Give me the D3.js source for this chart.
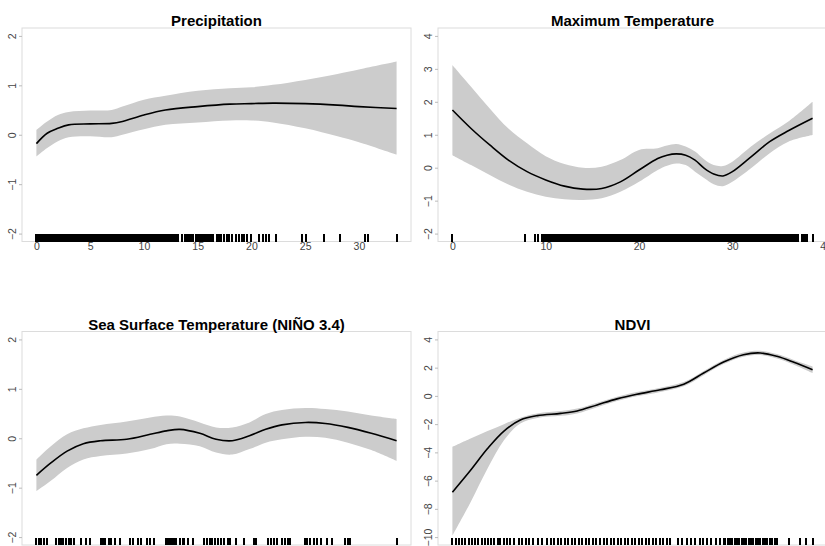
<!DOCTYPE html>
<meta charset="utf-8">
<style>
  body { margin: 0; background: #fff; }
  svg { display: block; font-family: "Liberation Sans", Arial, sans-serif; }
</style>
<svg width="825" height="546"></svg>
<script src="https://cdn.jsdelivr.net/npm/d3@7"></script>
<script>
// ---- Precipitation ----
var precipX     = [0, 1, 2, 3, 5, 7, 8, 10, 12, 15, 18, 20, 22, 25, 28, 30, 33.5];
var precipFit   = [-0.18, 0.03, 0.13, 0.20, 0.22, 0.23, 0.27, 0.40, 0.50, 0.57, 0.62, 0.63, 0.64, 0.63, 0.60, 0.57, 0.53];
var precipUpper = [0.10, 0.27, 0.40, 0.46, 0.49, 0.50, 0.57, 0.71, 0.79, 0.89, 0.94, 0.96, 1.01, 1.11, 1.23, 1.32, 1.48];
var precipLower = [-0.44, -0.27, -0.13, -0.05, -0.03, -0.05, 0.00, 0.11, 0.20, 0.25, 0.29, 0.29, 0.25, 0.13, -0.03, -0.15, -0.40];
var precipRug = [0,0.15,0.3,0.45,0.6,0.75,0.9,1.05,1.2,1.35,1.5,1.65,1.8,1.95,2.1,2.25,2.4,2.55,2.7,2.85,
  3,3.15,3.3,3.45,3.6,3.75,3.9,4.05,4.2,4.35,4.5,4.65,4.8,4.95,5.1,5.25,5.4,5.55,5.7,5.85,
  6,6.15,6.3,6.45,6.6,6.75,6.9,7.05,7.2,7.35,7.5,7.65,7.8,7.95,8.1,8.25,8.4,8.55,8.7,8.85,
  9,9.15,9.3,9.45,9.6,9.75,9.9,10.05,10.2,10.35,10.5,10.65,10.8,10.95,11.1,11.25,11.4,11.55,11.7,11.85,
  12,12.15,12.3,12.45,12.6,12.75,12.9,13.05,13.2,13.58,13.8,14.0,14.15,14.3,14.45,14.55,14.8,14.95,15.15,
  15.35,15.5,15.65,15.8,15.95,16.1,16.3,16.4,16.75,16.95,17.2,17.45,17.7,17.9,18.2,18.6,18.85,19.1,19.3,19.6,
  19.97,20.74,21.05,21.36,21.67,22.28,24.69,25.12,26.76,28.2,30.56,30.86,33.55];
var precipXTicks = [0, 5, 10, 15, 20, 25, 30];
var precipYTicks = [-2, -1, 0, 1, 2];

// ---- Maximum Temperature ----
var tmaxX     = [0, 2, 4, 6, 8, 10, 12, 14, 16, 18, 20, 22, 23, 24, 25, 26, 27, 28, 29, 30, 32, 34, 36, 38.6];
var tmaxFit   = [1.75, 1.19, 0.69, 0.23, -0.12, -0.37, -0.56, -0.65, -0.63, -0.43, -0.07, 0.28, 0.38, 0.42, 0.38, 0.23, -0.02, -0.19, -0.25, -0.12, 0.33, 0.79, 1.12, 1.50];
var tmaxUpper = [3.12, 2.46, 1.80, 1.19, 0.74, 0.35, 0.11, 0.00, 0.03, 0.23, 0.54, 0.59, 0.67, 0.72, 0.64, 0.49, 0.25, 0.08, 0.05, 0.18, 0.64, 1.04, 1.40, 2.00];
var tmaxLower = [0.38, 0.08, -0.22, -0.51, -0.73, -0.88, -0.96, -0.98, -0.93, -0.73, -0.43, -0.07, 0.06, 0.13, 0.08, -0.12, -0.32, -0.50, -0.56, -0.43, -0.02, 0.44, 0.79, 0.99];
var tmaxRug = [0, 7.77, 8.8, 9.16,
  9.6,9.8,10,10.2,10.4,10.6,10.8,11,11.2,11.4,11.6,11.8,12,12.2,12.4,12.6,12.8,13,13.2,13.4,13.6,13.8,
  14,14.2,14.4,14.6,14.8,15,15.2,15.4,15.6,15.8,16,16.2,16.4,16.6,16.8,17,17.2,17.4,17.6,17.8,
  18,18.2,18.4,18.6,18.8,19,19.2,19.4,19.6,19.8,20,20.2,20.4,20.6,20.8,21,21.2,21.4,21.6,21.8,
  22,22.2,22.4,22.6,22.8,23,23.2,23.4,23.6,23.8,24,24.2,24.4,24.6,24.8,25,25.2,25.4,25.6,25.8,
  26,26.2,26.4,26.6,26.8,27,27.2,27.4,27.6,27.8,28,28.2,28.4,28.6,28.8,29,29.2,29.4,29.6,29.8,
  30,30.2,30.4,30.6,30.8,31,31.2,31.4,31.6,31.8,32,32.2,32.4,32.6,32.8,33,33.2,33.4,33.6,33.8,
  34,34.2,34.4,34.6,34.8,35,35.2,35.4,35.6,35.8,36,36.2,36.4,36.6,36.8,37.0,
  37.45,37.65,37.85,38.05,38.68];
var tmaxXTicks = [0, 10, 20, 30, 40];
var tmaxYTicks = [-2, -1, 0, 1, 2, 3, 4];

// ---- Sea Surface Temperature (NIÑO 3.4) ----
var sstX     = [25.59, 25.75, 25.93, 26.11, 26.30, 26.59, 26.85, 27.03, 27.18, 27.40, 27.58, 27.76, 27.95, 28.13, 28.31, 28.57, 28.79, 29.04, 29.30, 29.58];
var sstFit   = [-0.75, -0.50, -0.26, -0.11, -0.05, -0.02, 0.08, 0.15, 0.18, 0.10, -0.02, -0.05, 0.05, 0.18, 0.27, 0.32, 0.30, 0.22, 0.10, -0.05];
var sstUpper = [-0.43, -0.16, 0.08, 0.20, 0.27, 0.34, 0.42, 0.46, 0.44, 0.32, 0.22, 0.22, 0.32, 0.49, 0.57, 0.61, 0.59, 0.54, 0.46, 0.39];
var sstLower = [-1.07, -0.86, -0.60, -0.43, -0.36, -0.31, -0.22, -0.12, -0.11, -0.16, -0.29, -0.33, -0.22, -0.09, -0.02, 0.03, 0.01, -0.09, -0.24, -0.46];
var sstRug = [25.59,25.62,25.64,25.67,25.71,25.81,25.84,25.86,25.89,25.92,25.95,25.97,26.01,26.08,26.14,26.18,
  26.30,26.33,26.35,26.39,26.42,26.46,26.52,26.63,26.66,26.72,26.75,26.81,26.85,26.89,
  27.03,27.05,27.07,27.08,27.10,27.12,27.14,27.18,27.21,27.23,27.27,27.32,
  27.45,27.48,27.51,27.54,27.57,27.60,27.63,27.67,27.71,27.74,27.80,27.89,28.00,28.02,
  28.16,28.19,28.22,28.26,28.31,28.34,28.38,28.40,28.56,28.59,28.62,28.66,28.70,28.74,28.81,28.86,
  29.01,29.04,29.06,29.58];
var sstXTicks = [26, 27, 28, 29];
var sstYTicks = [-2, -1, 0, 1, 2];

// ---- NDVI ----
var ndviX     = [0.240, 0.271, 0.300, 0.328, 0.356, 0.385, 0.425, 0.453, 0.487, 0.521, 0.555, 0.595, 0.635, 0.669, 0.703, 0.737, 0.766, 0.794, 0.823, 0.855];
var ndviFit   = [-6.82, -5.27, -3.73, -2.49, -1.71, -1.40, -1.24, -1.07, -0.64, -0.21, 0.12, 0.43, 0.83, 1.62, 2.40, 2.92, 3.04, 2.80, 2.38, 1.85];
var ndviUpper = [-3.61, -3.02, -2.49, -2.00, -1.54, -1.24, -1.07, -0.90, -0.48, -0.06, 0.27, 0.58, 0.98, 1.77, 2.55, 3.07, 3.19, 2.96, 2.55, 2.09];
var ndviLower = [-9.90, -7.53, -5.15, -3.14, -1.95, -1.56, -1.41, -1.24, -0.80, -0.36, -0.03, 0.28, 0.68, 1.47, 2.25, 2.77, 2.89, 2.64, 2.21, 1.62];
var ndviRug = [0.240,0.246,0.251,0.257,0.262,0.268,0.273,0.279,0.284,0.290,0.295,0.300,0.306,0.311,0.317,0.322,0.328,0.333,0.338,
  0.346,0.353,0.358,0.365,0.371,0.378,0.386,0.393,
  0.402,0.408,0.414,0.420,0.426,0.432,0.438,0.444,0.450,0.456,0.462,0.468,0.474,0.480,
  0.486,0.492,0.498,0.504,0.510,0.516,0.522,0.528,0.534,0.540,0.546,0.552,0.558,0.564,0.570,0.576,0.582,0.588,0.594,0.600,0.606,0.612,
  0.626,0.632,0.640,0.648,0.655,0.662,0.668,0.675,0.682,0.690,0.697,0.703,
  0.706,0.710,0.714,0.718,0.722,0.726,0.730,0.734,0.738,0.742,0.746,0.750,0.754,0.758,0.762,0.766,0.770,0.774,0.778,0.782,0.786,0.790,0.794,
  0.814,0.833,0.843,0.855];
var ndviXTicks = [0.3, 0.4, 0.5, 0.6, 0.7, 0.8];
var ndviYTicks = [-10, -8, -6, -4, -2, 0, 2, 4];

var titles = ["Precipitation", "Maximum Temperature", "Sea Surface Temperature (NIÑO 3.4)", "NDVI"];

var svg = d3.select("svg");
svg.append("rect").attr("width", 825).attr("height", 546).attr("fill", "#fff");

// R style axis range: 4% extra on each side
function pad(lo, hi) {
    var d = (hi - lo) * 0.04;
    return [lo - d, hi + d];
}

function drawPanel(p) {
    var g = svg.append("g");
    var x = d3.scaleLinear().domain(pad(d3.min(p.xs), d3.max(p.xs))).range([p.x0, p.x1]);
    var y = d3.scaleLinear().domain(pad(p.ylim[0], p.ylim[1])).range([p.y1, p.y0]);
    var rows = p.xs.map((v, i) => ({x: v, fit: p.fit[i], lo: p.lower[i], hi: p.upper[i]}));
    var curve = d3.curveCatmullRom.alpha(0.5);

    g.append("path")
        .attr("d", d3.area().x(d => x(d.x)).y0(d => y(d.lo)).y1(d => y(d.hi)).curve(curve)(rows))
        .attr("fill", "#cccccc");

    g.append("path")
        .attr("d", d3.line().x(d => x(d.x)).y(d => y(d.fit)).curve(curve)(rows))
        .attr("fill", "none").attr("stroke", "#000").attr("stroke-width", 1.6);

    g.append("rect")
        .attr("x", p.x0).attr("y", p.y0)
        .attr("width", p.x1 - p.x0).attr("height", p.y1 - p.y0)
        .attr("fill", "none").attr("stroke", "#dcdcdc");

    // rug: one short tick per observation, snapped to pixels so dense runs read solid
    g.append("g").attr("shape-rendering", "crispEdges")
        .selectAll("line").data(p.rug).enter().append("line")
        .attr("x1", d => x(d)).attr("x2", d => x(d))
        .attr("y1", p.y1 - 7.5).attr("y2", p.y1)
        .attr("stroke", "#000").attr("stroke-width", 2);

    var ya = g.append("g").attr("transform", "translate(" + p.x0 + ",0)")
        .call(d3.axisLeft(y).tickValues(p.yTicks).tickSize(3).tickFormat(d3.format("d")));
    ya.select(".domain").remove();
    ya.selectAll(".tick line").attr("stroke", "#bbb");
    ya.selectAll(".tick text")
        .attr("x", null).attr("dy", null)
        .attr("transform", "translate(-6,0) rotate(-90)")
        .attr("text-anchor", "middle")
        .attr("fill", "#444").attr("font-size", 10.5).attr("font-family", null);

    var xa = g.append("g").attr("transform", "translate(0," + p.y1 + ")")
        .call(d3.axisBottom(x).tickValues(p.xTicks).tickSize(0).tickPadding(1.5).tickFormat(d => d));
    xa.select(".domain").remove();
    xa.selectAll(".tick text").attr("fill", "#444").attr("font-size", 10.5).attr("font-family", null);

    g.append("text")
        .attr("x", (p.x0 + p.x1) / 2).attr("y", p.y0 - 2)
        .attr("text-anchor", "middle")
        .attr("font-size", 15).attr("font-weight", "bold")
        .text(p.title);
}

drawPanel({title: titles[0], x0: 22, x1: 411, y0: 28, y1: 241.5, ylim: [-2, 2],
    xs: precipX, fit: precipFit, upper: precipUpper, lower: precipLower, rug: precipRug,
    xTicks: precipXTicks, yTicks: precipYTicks});
drawPanel({title: titles[1], x0: 438, x1: 827, y0: 28, y1: 241.5, ylim: [-2, 4],
    xs: tmaxX, fit: tmaxFit, upper: tmaxUpper, lower: tmaxLower, rug: tmaxRug,
    xTicks: tmaxXTicks, yTicks: tmaxYTicks});
drawPanel({title: titles[2], x0: 22, x1: 411, y0: 331.5, y1: 545, ylim: [-2, 2],
    xs: sstX, fit: sstFit, upper: sstUpper, lower: sstLower, rug: sstRug,
    xTicks: sstXTicks, yTicks: sstYTicks});
drawPanel({title: titles[3], x0: 438, x1: 827, y0: 331.5, y1: 545, ylim: [-10, 4],
    xs: ndviX, fit: ndviFit, upper: ndviUpper, lower: ndviLower, rug: ndviRug,
    xTicks: ndviXTicks, yTicks: ndviYTicks});
</script>
